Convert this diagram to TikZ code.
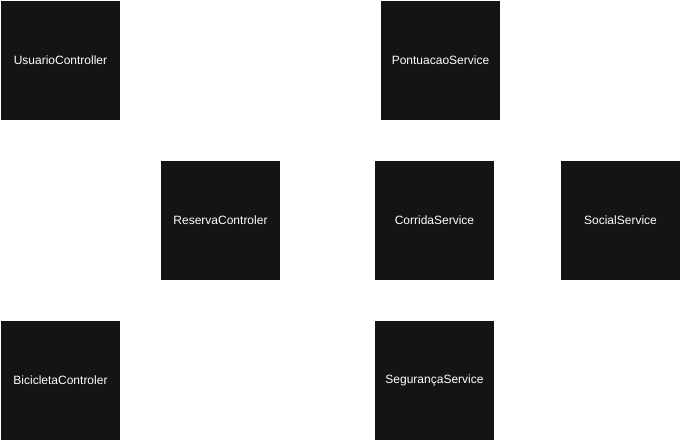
\documentclass[tikz,border=0pt]{standalone}
\usepackage{fontspec}
\setmainfont{Liberation Sans}
\usetikzlibrary{positioning}
\definecolor{boxfill}{HTML}{141414}
\tikzset{component/.style={fill=boxfill, text=white, minimum size=119pt, inner sep=0pt, outer sep=0pt, font=\fontsize{12}{14}\selectfont}}
\begin{document}
\begin{tikzpicture}[x=1pt,y=-1pt,node distance=41pt]
                \useasboundingbox (0,0) rectangle (681,441);
                \node[component] (usuario) at (60.5,60.5) {UsuarioController};
                \node[component] (reserva) [below right = 41pt and 41pt of usuario] {ReservaControler};
                \node[component] (bicicleta) [below = 201pt of usuario] {BicicletaControler};
                \node[component] (corrida) [right = 95pt of reserva] {CorridaService};
                \node[component] (social) [right = 67pt of corrida] {SocialService};
                \node[component] (seguranca) [below = of corrida] {SegurançaService};
                \node[component] (pontuacao) at (440.5,60.5) {PontuacaoService};
            \end{tikzpicture}
\end{document}
